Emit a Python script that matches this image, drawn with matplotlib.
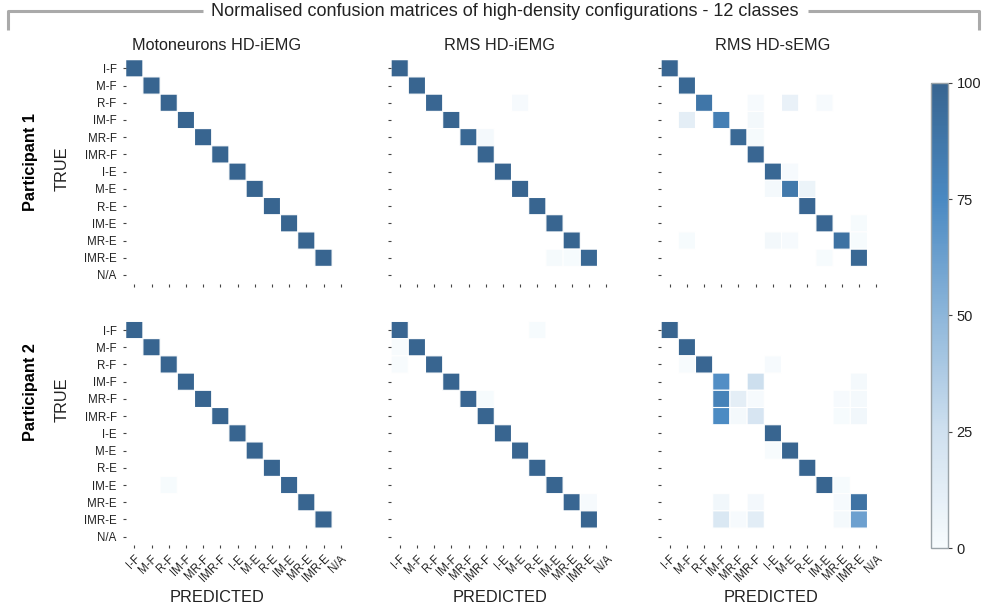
import numpy as np
import matplotlib
matplotlib.use("Agg")
import matplotlib.pyplot as plt
from matplotlib.colors import LinearSegmentedColormap
from matplotlib.lines import Line2D

plt.rcParams["font.family"] = ["Liberation Sans", "DejaVu Sans"]

CLASSES = ["I-F", "M-F", "R-F", "IM-F", "MR-F", "IMR-F",
           "I-E", "M-E", "R-E", "IM-E", "MR-E", "IMR-E", "N/A"]

TITLE = "Normalised confusion matrices of high-density configurations - 12 classes"
COLUMN_TITLES = ["Motoneurons HD-iEMG", "RMS HD-iEMG", "RMS HD-sEMG"]
ROW_TITLES = ["Participant 1", "Participant 2"]

# diagonal (correct) percentages, one per real class (N/A has none)
P1_MN_DIAG = [100, 100, 100, 100, 100, 100, 100, 100, 100, 100, 100, 100]
P1_IEMG_DIAG = [100, 100, 99, 100, 98, 100, 100, 100, 100, 100, 100, 98]
P1_SEMG_DIAG = [99, 98, 88, 82, 97, 99, 98, 86, 99, 99, 91, 98]
P2_MN_DIAG = [100, 100, 100, 100, 100, 100, 100, 100, 100, 99, 100, 100]
P2_IEMG_DIAG = [99, 100, 100, 100, 99, 100, 100, 100, 100, 100, 99, 100]
P2_SEMG_DIAG = [100, 100, 99, 0, 0, 0, 100, 100, 100, 100, 0, 62]

# off-diagonal confusions: (true row, predicted column, percent)
P1_MN_OFF = []
P1_IEMG_OFF = [(2, 7, 1.0), (4, 5, 2.0), (11, 9, 1.5), (11, 10, 0.5)]
P1_SEMG_OFF = [(2, 5, 0.8), (2, 7, 9.0), (2, 9, 0.8),
               (3, 1, 12.0), (3, 5, 3.0),
               (4, 5, 1.5),
               (6, 7, 1.0),
               (7, 6, 2.0), (7, 8, 7.0),
               (9, 11, 0.5),
               (10, 1, 0.5), (10, 6, 3.0), (10, 7, 1.0), (10, 11, 0.5),
               (11, 9, 0.5)]
P2_MN_OFF = [(9, 2, 0.5)]
P2_IEMG_OFF = [(0, 8, 0.5), (1, 0, 0.3), (2, 0, 0.3), (4, 5, 0.5), (10, 11, 1.0)]
P2_SEMG_OFF = [(2, 1, 0.3), (2, 6, 1.0),
               (3, 3, 72.0), (3, 5, 26.0), (3, 11, 2.0),
               (4, 3, 80.0), (4, 4, 12.0), (4, 5, 1.0), (4, 10, 1.0), (4, 11, 2.0),
               (5, 3, 74.0), (5, 4, 2.0), (5, 5, 20.0), (5, 10, 0.5), (5, 11, 4.0),
               (7, 6, 0.3),
               (9, 10, 0.5),
               (10, 3, 4.0), (10, 5, 2.5), (10, 10, 1.0), (10, 11, 90.0),
               (11, 3, 18.0), (11, 4, 1.0), (11, 5, 13.0), (11, 10, 2.0)]

PANELS = [[(P1_MN_DIAG, P1_MN_OFF), (P1_IEMG_DIAG, P1_IEMG_OFF), (P1_SEMG_DIAG, P1_SEMG_OFF)],
          [(P2_MN_DIAG, P2_MN_OFF), (P2_IEMG_DIAG, P2_IEMG_OFF), (P2_SEMG_DIAG, P2_SEMG_OFF)]]

W, H = 987, 613
CMAP = LinearSegmentedColormap.from_list(
    "cm_blues", ["#f7fbfd", "#cfe0ef", "#8db6da", "#4a89c2", "#386590"])
TXT = "#222222"


def build_matrix(diag, off):
    n = len(CLASSES)
    m = np.zeros((n, n))
    for i, v in enumerate(diag):
        m[i, i] = v
    for r, c, v in off:
        m[r, c] = v
    return np.ma.masked_equal(m, 0)


def px_rect(left, top, width, height):
    return [left / W, 1 - (top + height) / H, width / W, height / H]


fig = plt.figure(figsize=(W / 100, H / 100), dpi=100)
fig.patch.set_facecolor("white")

lefts = [125.7, 391.1, 661.1]
tops = [59.7, 321.4]
size_w, size_h = 223.6, 223.9
ticks = np.arange(len(CLASSES)) + 0.5

mesh = None
for ri, row in enumerate(PANELS):
    for ci, (diag, off) in enumerate(row):
        ax = fig.add_axes(px_rect(lefts[ci], tops[ri], size_w, size_h))
        mat = build_matrix(diag, off)
        mesh = ax.pcolor(mat, cmap=CMAP, vmin=0, vmax=100,
                         edgecolors="white", linewidth=0.8)
        ax.set_xlim(0, len(CLASSES))
        ax.set_ylim(len(CLASSES), 0)
        for s in ax.spines.values():
            s.set_visible(False)
        ax.set_xticks(ticks)
        ax.set_yticks(ticks)
        ax.tick_params(length=2.5, width=0.8, color="#444444",
                       labelsize=8.3, labelcolor=TXT)
        ax.tick_params(axis="y", pad=4)
        ax.tick_params(axis="x", pad=3)
        if ci == 0:
            ax.set_yticklabels(CLASSES)
        else:
            ax.set_yticklabels([])
        if ri == 1:
            ax.set_xticklabels(CLASSES, rotation=45, ha="right",
                               rotation_mode="anchor")
        else:
            ax.set_xticklabels([])

# colorbar
cax = fig.add_axes(px_rect(930.7, 82.7, 17.6, 465.3))
cb = fig.colorbar(mesh, cax=cax, ticks=[0, 25, 50, 75, 100])
cb.outline.set_edgecolor("#9aa3a8")
cb.outline.set_linewidth(1.0)
cax.tick_params(length=3, width=0.8, color="#444444", labelsize=10.5,
                labelcolor=TXT, pad=3)

# column titles
for x, t in zip([217, 500, 773], COLUMN_TITLES):
    fig.text(x / W, 1 - 45 / H, t, ha="center", va="center",
             fontsize=11.7, color=TXT)

# row titles
for y_p, y_t, t in zip([162, 392], [169, 400], ROW_TITLES):
    fig.text(31 / W, 1 - y_p / H, t, rotation=90, ha="center", va="center",
             fontsize=11.7, fontweight="bold", color="black")
    fig.text(62 / W, 1 - y_t / H, "TRUE", rotation=90, ha="center",
             va="center", fontsize=11.8, color=TXT)

for x in [217, 500, 771]:
    fig.text(x / W, 1 - 597 / H, "PREDICTED", ha="center", va="center",
             fontsize=11.8, color=TXT)

# main title with bracket
fig.text(505 / W, 1 - 12 / H, TITLE, ha="center", va="center",
         fontsize=13, color=TXT)
br = dict(color="#aaaaaa", linewidth=2.2, solid_capstyle="butt")
fig.add_artist(Line2D([8 / W, 8 / W, 203 / W],
                      [1 - 30 / H, 1 - 11 / H, 1 - 11 / H],
                      transform=fig.transFigure, **br))
fig.add_artist(Line2D([808 / W, 979 / W, 979 / W],
                      [1 - 11 / H, 1 - 11 / H, 1 - 30 / H],
                      transform=fig.transFigure, **br))

fig.savefig("out.png", dpi=100, facecolor="white")
